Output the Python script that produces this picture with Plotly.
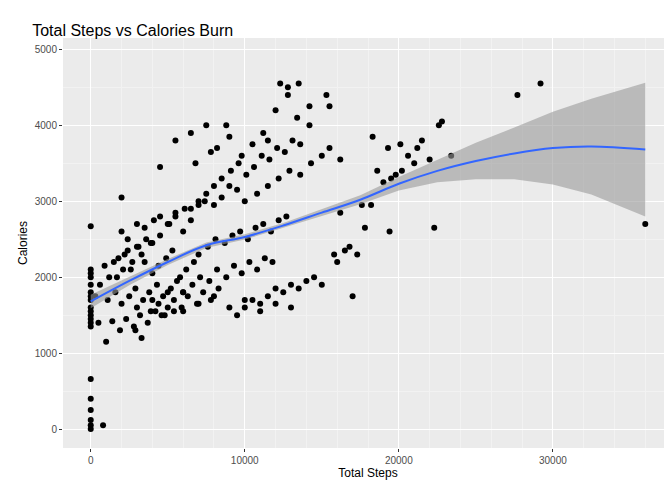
import plotly.graph_objects as go

# points (steps, calories)
steps = [0, 0, 0, 0, 0, 0, 0, 0, 0, 0, 0, 0, 0, 0, 0, 0, 0, 0, 0, 0, 800,
         300, 600, 900, 1200, 1500, 1800, 2100, 2400, 2700, 3000, 3300, 3600, 3900,
         500, 1000, 1400, 1900, 2300, 2800, 3200, 3700, 4200, 4600, 5000, 5400,
         1100, 1600, 2000, 2500, 2900, 3400, 3800, 4300, 4700, 5200, 5600, 6000,
         1700, 2200, 2600, 3100, 3500, 4000, 4400, 4900, 5300, 5800, 6200, 6700,
         2000, 2400, 3000, 3500, 4100, 4500, 5100, 5500, 6100, 6500, 7000, 7400,
         2900, 3300, 3900, 4400, 4800, 5400, 5900, 6300, 6900, 7300, 7800, 8300,
         4000, 4500, 5000, 5500, 6000, 6500, 7000, 7500, 8000, 8500, 9000, 9500,
         6000, 6600, 7100, 7700, 8200, 8800, 9300, 9800, 10300, 10800, 11300, 11800,
         7000, 7600, 8100, 8700, 9200, 9700, 10200, 10700, 11200, 11700, 12200, 12700,
         8000, 8500, 9100, 9600, 10100, 10600, 11100, 11600, 12100, 12600, 13100, 13600,
         9500, 10000, 10500, 11000, 11500, 12000, 12500, 13000, 13500, 14000, 14500, 15000,
         10000, 10800, 11500, 12200, 12900, 13600, 14300, 15000, 15500,
         5500, 6500, 7500, 8200, 9000, 9800, 10500, 11200, 12000, 12800, 13500, 14200,
         3000, 4000, 5000, 6000, 7000, 8000, 9000, 10000, 11000, 12000, 13000,
         2000, 4500, 6800, 7800, 8800, 11500, 12300, 12800, 13400, 14200, 15300,
         16000, 16500, 17000, 17300, 17800, 18200, 18600, 19000, 19300, 19800, 20200,
         20600, 21000, 21500, 22000, 22300, 22800, 23400, 16200, 17600, 18300, 19500,
         20100, 21200, 22600, 15800, 16800, 19400, 27700, 29200, 36000, 15500, 16200]
calories = [0, 50, 120, 250, 400, 660, 1350, 1400, 1450, 1500, 1550, 1600, 1700, 1750, 1800, 1900, 2000, 2050, 2100, 2670, 50,
            1750, 1900, 2150, 2000, 2200, 2250, 2100, 2350, 2200, 2400, 2300, 2500, 2450,
            1400, 1150, 1420, 1300, 1450, 1350, 1500, 1400, 1550, 1500, 1600, 1550,
            1700, 1800, 1650, 1750, 1850, 1700, 1800, 1900, 1750, 1850, 1950, 1800,
            2000, 2300, 2100, 2400, 2200, 2050, 2150, 2250, 2350, 2000, 2100, 2200,
            2600, 2500, 2700, 2650, 2750, 2800, 2700, 2850, 2900, 2750, 2950, 3000,
            1300, 1200, 1550, 1650, 1500, 1700, 1600, 1750, 1650, 1800, 1700, 1850,
            2450, 2550, 2700, 2800, 2600, 2900, 3000, 3100, 2950, 3050, 3200, 3150,
            1800, 1900, 2000, 1950, 2100, 2000, 2150, 2050, 2200, 2100, 2250, 2200,
            2300, 2400, 2500, 2450, 2550, 2600, 2500, 2650, 2700, 2600, 2750, 2800,
            3200, 3300, 3400, 3500, 3350, 3450, 3600, 3550, 3700, 3650, 3800, 3750,
            1500, 1600, 1700, 1650, 1750, 1850, 1800, 1900, 1850, 1950, 2000, 1900,
            3000, 3100, 3200, 3300, 3400, 3350, 3500, 3600, 3700,
            3800, 3900, 4000, 3700, 3850, 3600, 3750, 3900, 4200, 4500, 4550, 4250,
            1600, 1700, 1800, 1550, 1650, 1750, 1600, 1700, 1550, 1650, 1600,
            3050, 3450, 3500, 3650, 4000, 3800, 4550, 4400, 4100, 4000, 4400,
            2200, 2350, 1750, 2300, 2650, 2950, 3400, 3250, 3700, 3350, 3400,
            3600, 3500, 3800, 3550, 2650, 4050, 3600, 2850, 2950, 3850, 3300,
            3750, 3700, 4000, 2300, 2400, 2600, 4400, 4550, 2700, 4250, 3550]

# smoothed fit with confidence band
fit_x = [0, 2500, 5000, 7500, 10000, 12500, 15000, 17500, 20000, 22500, 25000, 27500, 30000, 32500, 36000]
fit_y = [1680, 1950, 2200, 2420, 2530, 2680, 2850, 3020, 3230, 3400, 3530, 3630, 3700, 3720, 3680]
fit_se = [90, 55, 40, 35, 35, 35, 45, 60, 90, 150, 240, 340, 480, 630, 880]

upper = [y + s for y, s in zip(fit_y, fit_se)]
lower = [y - s for y, s in zip(fit_y, fit_se)]

fig = go.Figure()
fig.add_trace(go.Scatter(x=steps, y=calories, mode="markers",
                         marker=dict(color="black", size=6), showlegend=False))
fig.add_trace(go.Scatter(x=fit_x + fit_x[::-1], y=upper + lower[::-1], fill="toself",
                         fillcolor="rgba(153,153,153,0.6)", line=dict(width=0),
                         mode="lines", showlegend=False, hoverinfo="skip"))
fig.add_trace(go.Scatter(x=fit_x, y=fit_y, mode="lines", line_shape="spline",
                         line=dict(color="#3366FF", width=2), showlegend=False))

axis_style = dict(gridcolor="white", gridwidth=1.2, zeroline=False, ticks="outside",
                  ticklen=3, tickcolor="#333333", tickfont=dict(color="#4d4d4d", size=10),
                  showline=False, automargin=False, tickformat="d",
                  minor=dict(showgrid=True, gridcolor="#f2f2f2", gridwidth=0.6))
fig.update_layout(
    width=672, height=480,
    title=dict(text="Total Steps vs Calories Burn", x=0.036, y=0.965, font=dict(size=16, color="black")),
    paper_bgcolor="white", plot_bgcolor="#EBEBEB",
    margin=dict(l=55, r=7, t=30, b=40),
    font=dict(family="Liberation Sans, Arial"),
)
fig.update_xaxes(axis_style, range=[-1800, 37800], tickvals=[0, 10000, 20000, 30000],
                 title=dict(text="Total Steps", font=dict(size=12, color="black"), standoff=2))
fig.update_yaxes(axis_style, range=[-250, 5150], tickvals=[0, 1000, 2000, 3000, 4000, 5000],
                 title=dict(text="Calories", font=dict(size=12, color="black"), standoff=4))
fig.write_html("out.html")
